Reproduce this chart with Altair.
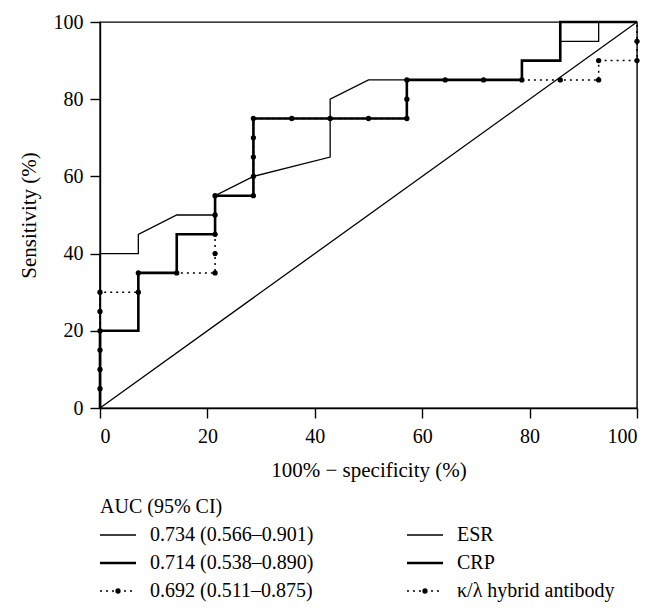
import altair as alt
import pandas as pd

# ---------------- data ----------------
x_ticks = [0, 20, 40, 60, 80, 100]
y_ticks = [0, 20, 40, 60, 80, 100]

esr_x = [0, 0, 7.14, 7.14, 14.29, 21.43, 21.43, 28.57, 42.86, 42.86, 50, 78.57, 78.57, 85.71, 85.71, 92.86, 92.86, 100]
esr_y = [0, 40, 40, 45, 50, 50, 55, 60, 65, 80, 85, 85, 90, 90, 95, 95, 100, 100]

crp_x = [0, 0, 7.14, 7.14, 14.29, 14.29, 21.43, 21.43, 28.57, 28.57, 57.14, 57.14, 78.57, 78.57, 85.71, 85.71, 100]
crp_y = [0, 20, 20, 35, 35, 45, 45, 55, 55, 75, 75, 85, 85, 90, 90, 100, 100]

hyb_x = [0, 0, 0, 0, 0, 0, 0, 7.14, 7.14, 14.29, 21.43, 21.43, 21.43, 21.43, 21.43,
         28.57, 28.57, 28.57, 28.57, 28.57, 35.71, 42.86, 50, 57.14, 57.14, 57.14,
         64.29, 71.43, 78.57, 85.71, 92.86, 92.86, 100, 100, 100]
hyb_y = [0, 5, 10, 15, 20, 25, 30, 30, 35, 35, 35, 40, 45, 50, 55,
         55, 60, 65, 70, 75, 75, 75, 75, 75, 80, 85,
         85, 85, 85, 85, 85, 90, 90, 95, 100]

diag_x = [0, 100]
diag_y = [0, 100]

legend_title = "AUC (95% CI)"
legend_auc = ["0.734 (0.566–0.901)", "0.714 (0.538–0.890)", "0.692 (0.511–0.875)"]
legend_names = ["ESR", "CRP", "κ/λ hybrid antibody"]

FONT = "Liberation Serif"
LBL = 20
TTL = 21


def frame(xs, ys):
    return pd.DataFrame({"x": xs, "y": ys, "i": range(len(xs))})


esr_df = frame(esr_x, esr_y)
crp_df = frame(crp_x, crp_y)
hyb_df = frame(hyb_x, hyb_y)
diag_df = frame(diag_x, diag_y)
hyb_pts = hyb_df.iloc[1:-1]

xs = alt.Scale(domain=[0, 100], nice=False, zero=False)
ys = alt.Scale(domain=[0, 100], nice=False, zero=False)

X = alt.X("x:Q", scale=xs, axis=alt.Axis(values=x_ticks, format="d", title="100% − specificity (%)",
                                         labelPadding=8, titlePadding=13))
Y = alt.Y("y:Q", scale=ys, axis=alt.Axis(values=y_ticks, format="d", title="Sensitivity (%)",
                                         labelPadding=7, titlePadding=14))

diag = alt.Chart(diag_df).mark_line(color="black", strokeWidth=1.3).encode(x=X, y=Y, order="i:Q")
esr = alt.Chart(esr_df).mark_line(color="black", strokeWidth=1.3).encode(x=X, y=Y, order="i:Q")
crp = alt.Chart(crp_df).mark_line(color="black", strokeWidth=2.6).encode(x=X, y=Y, order="i:Q")
hyb = alt.Chart(hyb_df).mark_line(color="black", strokeWidth=1.5, strokeDash=[2, 4]).encode(x=X, y=Y, order="i:Q")
pts = alt.Chart(hyb_pts).mark_circle(color="black", opacity=1, size=28).encode(x=X, y=Y)

main = alt.layer(diag, esr, crp, hyb, pts).properties(
    width=537, height=386, view=alt.ViewBackground(stroke="black", strokeWidth=1.4)
)

# ---------------- legend ----------------
leg_df = pd.DataFrame({
    "row": [1, 2, 3],
    "auc": legend_auc,
    "name": legend_names,
})
title_df = pd.DataFrame({"row": [0], "t": [legend_title]})

LY = alt.Y("row:Q", scale=alt.Scale(domain=[0, 3], range=[0, 84]), axis=None)

c1_sym = (0, 36)
c1_txt = 50
c2_sym = (307, 343)
c2_txt = 357

txt_kw = dict(align="left", baseline="middle", font=FONT, fontSize=LBL, color="black")
leg_layers = [
    alt.Chart(title_df).mark_text(**txt_kw).encode(x=alt.value(0), y=LY, text="t:N"),
    alt.Chart(leg_df).mark_text(**txt_kw).encode(x=alt.value(c1_txt), y=LY, text="auc:N"),
    alt.Chart(leg_df).mark_text(**txt_kw).encode(x=alt.value(c2_txt), y=LY, text="name:N"),
]
styles = {1: dict(strokeWidth=1.3), 2: dict(strokeWidth=2.6), 3: dict(strokeWidth=1.5, strokeDash=[2, 4])}
for r, st in styles.items():
    sub = leg_df[leg_df["row"] == r]
    for (a, b) in (c1_sym, c2_sym):
        leg_layers.append(
            alt.Chart(sub).mark_rule(color="black", **st)
            .encode(x=alt.value(a), x2=alt.value(b), y=LY)
        )
        if r == 3:
            leg_layers.append(
                alt.Chart(sub).mark_circle(color="black", opacity=1, size=28)
                .encode(x=alt.value((a + b) / 2), y=LY)
            )

legend = alt.layer(*leg_layers).properties(
    width=537, height=84, view=alt.ViewBackground(stroke="transparent", strokeWidth=0)
)

chart = alt.vconcat(main, legend, spacing=16).properties(
    padding={"left": 9, "top": 3, "right": 5, "bottom": 5}
).configure_axis(
    grid=False, domainColor="black", domainWidth=1.4, tickColor="black", tickWidth=1.4,
    tickSize=10, labelFont=FONT, labelFontSize=LBL, labelColor="black",
    titleFont=FONT, titleFontSize=TTL, titleFontWeight="normal", titleColor="black"
)

chart.save("out.html", embed_options={"renderer": "svg", "actions": False})
